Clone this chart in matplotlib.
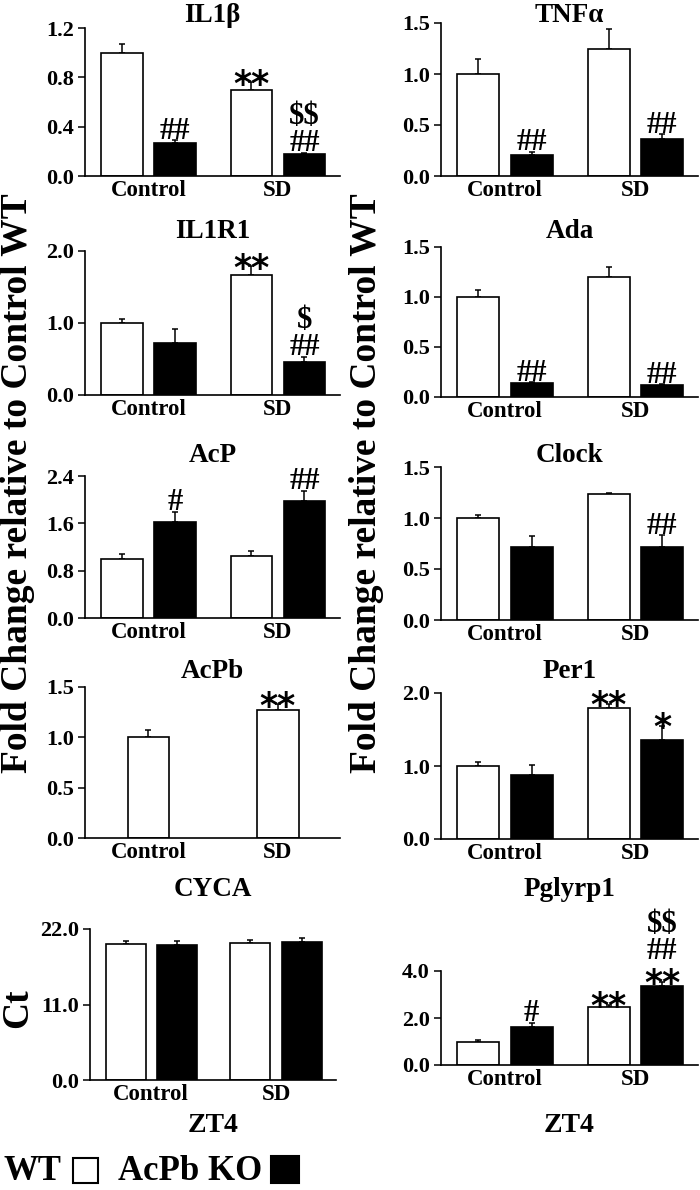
import matplotlib
matplotlib.use("Agg")
import matplotlib.pyplot as plt
from matplotlib.patches import Rectangle
import numpy as np

plt.rcParams['font.family'] = ['Liberation Serif', 'DejaVu Serif']
plt.rcParams['font.weight'] = 'bold'
plt.rcParams['text.parse_math'] = False

# panel data (order: Control, SD)
genes = ["IL1β", "TNFα", "IL1R1", "Ada", "AcP", "Clock", "AcPb", "Per1", "CYCA", "Pglyrp1"]
wt_mean = [[1.00, 0.70], [1.00, 1.25], [1.00, 1.67], [1.00, 1.20], [1.00, 1.05],
           [1.00, 1.24], [1.00, 1.27], [1.00, 1.80], [19.8, 20.0], [1.00, 2.45]]
wt_err = [[0.07, 0.06], [0.15, 0.19], [0.05, 0.12], [0.07, 0.10], [0.08, 0.08],
          [0.03, 0.01], [0.07, 0.06], [0.05, 0.05], [0.4, 0.4], [0.05, 0.12]]
ko_mean = [[0.27, 0.18], [0.21, 0.36], [0.72, 0.46], [0.14, 0.12], [1.63, 1.97],
           [0.72, 0.72], None, [0.87, 1.35], [19.7, 20.1], [1.60, 3.35]]
ko_err = [[0.02, 0.01], [0.03, 0.05], [0.19, 0.07], [0.01, 0.01], [0.17, 0.18],
          [0.10, 0.11], None, [0.15, 0.20], [0.5, 0.6], [0.20, 0.20]]
# significance marks: asterisks sit lowest, then # and $ lines (top line first)
wt_stars = [["", "**"], ["", ""], ["", "**"], ["", ""], ["", ""],
            ["", ""], ["", "**"], ["", "**"], ["", ""], ["", "**"]]
ko_stars = [["", ""], ["", ""], ["", ""], ["", ""], ["", ""],
            ["", ""], ["", ""], ["", "*"], ["", ""], ["", "**"]]
ko_signs = [["##", "$$\n##"], ["##", "##"], ["", "$\n##"], ["##", "##"], ["#", "##"],
            ["", "##"], ["", ""], ["", ""], ["", ""], ["#", "$$\n##"]]
yticks = [[0, 0.4, 0.8, 1.2], [0, 0.5, 1.0, 1.5], [0, 1.0, 2.0], [0, 0.5, 1.0, 1.5],
          [0, 0.8, 1.6, 2.4], [0, 0.5, 1.0, 1.5], [0, 0.5, 1.0, 1.5], [0, 1.0, 2.0],
          [0, 11.0, 22.0], [0, 2.0, 4.0]]
groups = ["Control", "SD"]

W, H = 700, 1190
fig = plt.figure(figsize=(W / 100, H / 100), dpi=100)

# axes boxes in pixels: x0, x1, ytop, ybottom
boxes = [(85, 340, 28, 176), (441, 698, 23, 176),
         (85, 340, 251, 395), (441, 698, 247, 397),
         (85, 340, 476, 618), (441, 698, 467, 620),
         (85, 340, 687, 838), (441, 698, 693, 839),
         (90, 336, 929, 1080), (441, 698, 971, 1065)]
title_y = [15, 15, 232, 232, 455, 455, 671, 671, 890, 890]


def put_marks(ax, x, top, stars, signs):
    off = 0
    if stars:
        ax.annotate(stars, (x, top), xytext=(0, -9), textcoords='offset points',
                    ha='center', va='baseline', fontsize=25, fontweight='bold',
                    family='DejaVu Sans')
        off = 15
    if signs:
        ax.annotate(signs, (x, top), xytext=(0, off + 1), textcoords='offset points',
                    ha='center', va='baseline', fontsize=22, fontweight='bold',
                    linespacing=0.92)


x = np.arange(2)
for i, g in enumerate(genes):
    x0, x1, yt, yb = boxes[i]
    ax = fig.add_axes([x0 / W, 1 - yb / H, (x1 - x0) / W, (yb - yt) / H])
    ymax = yticks[i][-1]
    if ko_mean[i] is None:
        xs = x
    else:
        xs = x - 0.205
    ax.bar(xs, wt_mean[i], width=0.32, color='white', edgecolor='black', linewidth=1.2, zorder=2)
    ax.errorbar(xs, wt_mean[i], yerr=[[0, 0], wt_err[i]], fmt='none', ecolor='black',
                elinewidth=1.1, capsize=2.5, capthick=1.1, zorder=1)
    for j in range(2):
        if wt_stars[i][j]:
            put_marks(ax, xs[j], wt_mean[i][j] + wt_err[i][j], wt_stars[i][j], "")
    if ko_mean[i] is not None:
        xk = x + 0.205
        ax.bar(xk, ko_mean[i], width=0.32, color='black', edgecolor='black', linewidth=1.2, zorder=2)
        ax.errorbar(xk, ko_mean[i], yerr=[[0, 0], ko_err[i]], fmt='none', ecolor='black',
                    elinewidth=1.1, capsize=2.5, capthick=1.1, zorder=1)
        for j in range(2):
            if ko_stars[i][j] or ko_signs[i][j]:
                put_marks(ax, xk[j], ko_mean[i][j] + ko_err[i][j], ko_stars[i][j], ko_signs[i][j])
    ax.set_xlim(-0.49, 1.48)
    ax.set_ylim(0, ymax)
    ax.set_yticks(yticks[i])
    ax.set_yticklabels(["%.1f" % v for v in yticks[i]], fontsize=16, fontweight='bold')
    ax.set_xticks(x)
    ax.set_xticklabels(groups, fontsize=16.5, fontweight='bold')
    ax.tick_params(axis='x', length=0, pad=3)
    ax.tick_params(axis='y', length=5, width=1.1, direction='out', pad=3)
    for s in ['top', 'right']:
        ax.spines[s].set_visible(False)
    for s in ['left', 'bottom']:
        ax.spines[s].set_linewidth(1.2)
    ax.spines['left'].set_bounds(0, ymax)
    fig.text((x0 + x1) / 2 / W, 1 - title_y[i] / H, g, ha='center', va='center',
             fontsize=19.5, fontweight='bold')
    if i >= 8:
        fig.text((x0 + x1) / 2 / W, 1 - 1125 / H, "ZT4", ha='center', va='center',
                 fontsize=20, fontweight='bold')

for xl in [18, 366]:
    fig.text(xl / W, 1 - 483 / H, "Fold Change relative to Control WT", rotation=90,
             ha='center', va='center', fontsize=27, fontweight='bold')
fig.text(18 / W, 1 - 1008 / H, "Ct", rotation=90, ha='center', va='center',
         fontsize=27, fontweight='bold')

# legend
fig.text(4 / W, 1 - 1171 / H, "WT", ha='left', va='center', fontsize=25, fontweight='bold')
fig.patches.append(Rectangle((73 / W, 1 - 1183 / H), 25 / W, 25 / H, transform=fig.transFigure,
                             facecolor='white', edgecolor='black', linewidth=1.5))
fig.text(118 / W, 1 - 1171 / H, "AcPb KO", ha='left', va='center', fontsize=25, fontweight='bold')
fig.patches.append(Rectangle((271 / W, 1 - 1183 / H), 28 / W, 27 / H, transform=fig.transFigure,
                             facecolor='black', edgecolor='black', linewidth=1.5))

fig.savefig("out.png", dpi=100)
